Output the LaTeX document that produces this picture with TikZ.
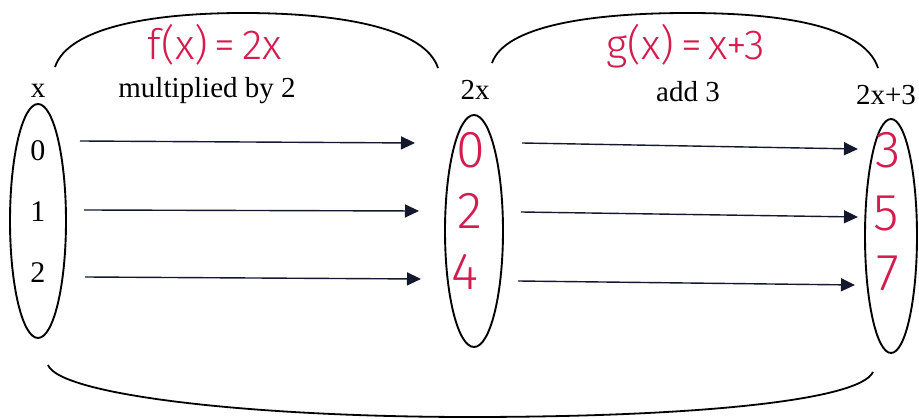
\documentclass[tikz,border=0pt]{standalone}
\usepackage{fontspec}
\setmainfont{Liberation Serif}
\newfontfamily\handfont{Fira Sans Light}
\usetikzlibrary{shapes.geometric,arrows.meta}
\definecolor{pen}{RGB}{212,28,78}
\definecolor{ink}{RGB}{20,24,45}
\begin{document}
\begin{tikzpicture}[x=1pt,y=-1pt,
  setbox/.style={draw=black,line width=1.9pt,ellipse,inner sep=0pt},
  arcline/.style={draw=black,line width=1.8pt},
  maparrow/.style={draw=ink,line width=1.4pt,-{Triangle[length=14pt,width=13pt]}},
  printed/.style={font=\fontsize{29}{31}\selectfont,anchor=base,inner sep=0pt},
  printednum/.style={font=\fontsize{30}{32}\selectfont,inner sep=0pt},
  handnum/.style={font=\handfont\fontsize{52}{54}\selectfont,text=pen,inner sep=0pt},
  handeq/.style={font=\handfont\fontsize{42}{44}\selectfont,text=pen,inner sep=0pt}]
\useasboundingbox (0,0) rectangle (919,419);

% sets
\node[setbox,minimum width=56pt,minimum height=234pt] (A) at (38,221) {};
\node[setbox,minimum width=58pt,minimum height=232pt] (B) at (474,231) {};
\node[setbox,minimum width=52pt,minimum height=234pt] (C) at (891,236) {};

% headings
\node[printed] (hx) at (38,98) {x};
\node[printed] (hm) at (207,98) {multiplied by 2};
\node[printed] (h2x) at (475,100) {2x};
\node[printed] (ha) at (688,102) {add 3};
\node[printed] (h2x3) at (886,105) {2x+3};

% handwritten rules
\node[handeq] (f) at (215,45) {f(x)\,=\,2x};
\node[handeq] (g) at (686,46) {g(x)\,=\,x+3};

% elements
\node[printednum] (a0) at (38,151) {0};
\node[printednum] (a1) at (38,212) {1};
\node[printednum] (a2) at (38,273) {2};
\node[handnum] (b0) at (471,150) {0};
\node[handnum] (b2) at (470,211) {2};
\node[handnum] (b4) at (465,272) {4};
\node[handnum] (c3) at (888,150) {3};
\node[handnum] (c5) at (886,213) {5};
\node[handnum] (c7) at (888,273) {7};

% arrow end points
\coordinate (p1) at (80,141);  \coordinate (q1) at (415,143);
\coordinate (p2) at (84,210);  \coordinate (q2) at (419,211);
\coordinate (p3) at (85,277);  \coordinate (q3) at (421,279);
\coordinate (r1) at (522,143); \coordinate (s1) at (858,149);
\coordinate (r2) at (521,212); \coordinate (s2) at (858,217);
\coordinate (r3) at (518,281); \coordinate (s3) at (855,285);

\draw[maparrow] (p1) -- (q1);
\draw[maparrow] (p2) -- (q2);
\draw[maparrow] (p3) -- (q3);
\draw[maparrow] (r1) -- (s1);
\draw[maparrow] (r2) -- (s2);
\draw[maparrow] (r3) -- (s3);

% arcs
\coordinate (u1) at (55,67);  \coordinate (u2) at (243,13); \coordinate (u3) at (438,68);
\coordinate (v1) at (492,63); \coordinate (v2) at (688,13); \coordinate (v3) at (878,68);
\coordinate (w1) at (48,365); \coordinate (w2) at (470,417); \coordinate (w3) at (873,372);
\draw[arcline] (u1) .. controls (68,28) and (150,13) .. (u2) .. controls (340,13) and (425,28) .. (u3);
\draw[arcline] (v1) .. controls (505,26) and (590,13) .. (v2) .. controls (790,13) and (865,28) .. (v3);
\draw[arcline] (w1) .. controls (60,395) and (250,417) .. (w2) .. controls (700,417) and (860,400) .. (w3);
\end{tikzpicture}
\end{document}
